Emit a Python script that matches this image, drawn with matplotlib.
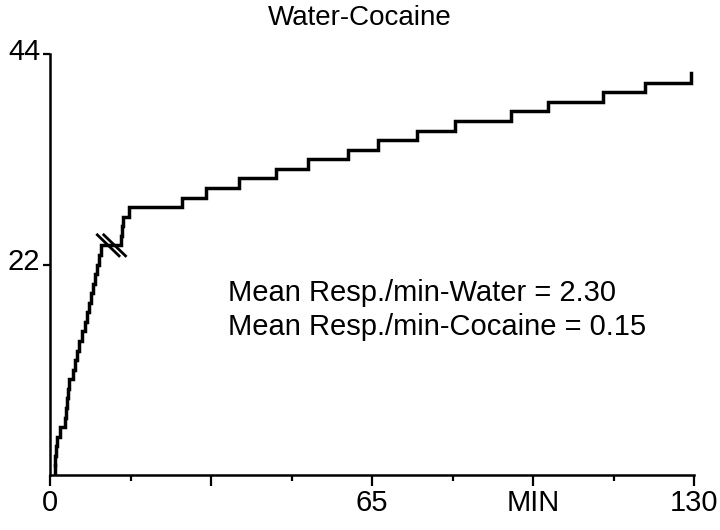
import numpy as np
import matplotlib.pyplot as plt
import matplotlib.transforms as mtransforms

plt.rcParams['font.family'] = ['Liberation Sans', 'DejaVu Sans']

# Cumulative record: time (min) at which each response occurred
water_times = [1.01, 1.11, 1.21, 1.41, 2.02, 3.03, 3.23, 3.43, 3.63, 3.84,
               4.64, 5.05, 5.45, 5.85, 6.46, 7.07, 7.47, 7.87, 8.28, 8.68,
               9.08, 9.49, 9.89, 10.29]
cocaine_times = [14.3, 14.5, 14.7, 15.9,
                 26.6, 31.5, 38.2, 45.6, 52.1, 60.2, 66.2, 74.1, 81.8,
                 93.1, 100.5, 111.6, 120.1, 129.4]
end_time = 129.4

x_major = [0, 32.5, 65, 97.5, 130]
x_major_labels = ['0', '', '65', 'MIN', '130']
x_minor = [16.25, 48.75, 81.25, 113.75]
y_ticks = [22, 44]

title = "Water-Cocaine"
stats = ["Mean Resp./min-Water = 2.30", "Mean Resp./min-Cocaine = 0.15"]

# build step series
times = [0.0] + water_times + cocaine_times
counts = list(range(len(times)))
t = np.array(times + [end_time])
c = np.array(counts + [counts[-1]])

fig = plt.figure(figsize=(7.2, 5.3), dpi=100)
ax = fig.add_axes([50/720, 1 - 475/530, 644/720, 421/530])

ax.plot(t[1:], c[1:], drawstyle='steps-post', color='black', lw=2.5,
        solid_joinstyle='miter')
ax.plot([t[1], t[1]], [0, 1], color='black', lw=2.5)

# break marks on the water/cocaine transition
n_w = len(water_times)
bx, by = 12.4, n_w
for off in (-0.65, 0.65):
    ax.plot([bx + off - 2.4, bx + off + 2.4], [by + 1.2, by - 1.2],
            color='black', lw=2.0, solid_capstyle='butt')

ax.set_xlim(0, 130)
ax.set_ylim(0, 44)
ax.spines['top'].set_visible(False)
ax.spines['right'].set_visible(False)
ax.spines['left'].set_linewidth(1.8)
ax.spines['bottom'].set_linewidth(1.8)

ax.set_xticks(x_major)
ax.set_xticklabels(x_major_labels, fontsize=21)
ax.set_xticks(x_minor, minor=True)
ax.tick_params(axis='x', which='major', direction='out', length=8, width=1.6, pad=2)
ax.tick_params(axis='x', which='minor', direction='out', length=4, width=1.6)

ax.set_yticks(y_ticks)
ax.set_yticklabels([str(v) for v in y_ticks], fontsize=21)
ax.tick_params(axis='y', direction='out', length=5, width=1.6, pad=2)
shift = mtransforms.ScaledTranslation(0, 5/100, fig.dpi_scale_trans)
for lab in ax.get_yticklabels():
    lab.set_transform(lab.get_transform() + shift)

ax.text(35.9, 19.0, stats[0], fontsize=21, va='center', ha='left')
ax.text(35.9, 15.5, stats[1], fontsize=21, va='center', ha='left')

fig.text(0.5, 1 - 18/530, title, fontsize=20, ha='center', va='center')

fig.savefig('out.png', dpi=100)
